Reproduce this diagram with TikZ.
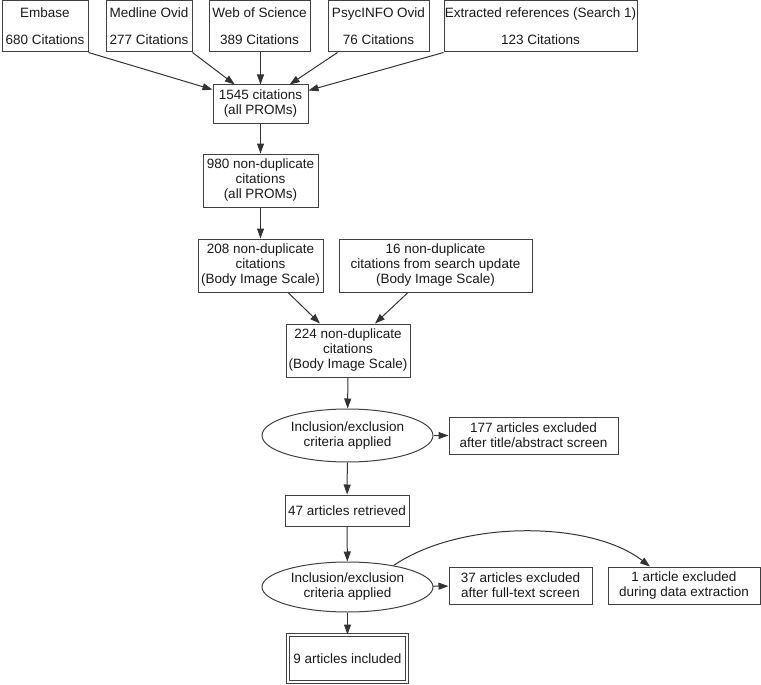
\documentclass[tikz,border=0pt]{standalone}
\usepackage{fontspec}
\setmainfont{Liberation Sans}
\usetikzlibrary{arrows.meta,shapes.geometric}
\begin{document}
\begin{tikzpicture}[x=1pt,y=-1pt,
  every node/.style={font=\fontsize{13.5}{15}\selectfont, text=black!90, align=center, inner sep=0pt},
  box/.style={draw=black!75, line width=1pt, rectangle},
  oval/.style={draw=black!75, line width=1pt, ellipse},
  conn/.style={draw=black!80, line width=1pt, -{Triangle[length=10pt,width=7pt]}}
]
\useasboundingbox (0,0) rectangle (761,685);
% top sources
\node[box, minimum width=86, minimum height=51] (emb) at (45,26.5) {Embase\\[12pt]680 Citations};
\node[box, minimum width=86, minimum height=51] (med) at (149,26.5) {Medline Ovid\\[12pt]277 Citations};
\node[box, minimum width=101, minimum height=51] (wos) at (259.5,26.5) {Web of Science\\[12pt]389 Citations};
\node[box, minimum width=101, minimum height=51] (psy) at (378.5,26.5) {PsycINFO Ovid\\[12pt]76 Citations};
\node[box, minimum width=193, minimum height=51] (ext) at (540.5,26.5) {Extracted references (Search 1)\\[12pt]123 Citations};
% flow
\node[box, minimum width=95, minimum height=38] (c1545) at (260.5,104) {1545 citations\\(all PROMs)};
\node[box, minimum width=115, minimum height=53] (c980) at (260.5,180.5) {980 non-duplicate\\citations\\(all PROMs)};
\node[box, minimum width=125, minimum height=53] (c208) at (260.5,265.5) {208 non-duplicate\\citations\\(Body Image Scale)};
\node[box, minimum width=193, minimum height=53] (c16) at (435.5,265.5) {16 non-duplicate\\citations from search update\\(Body Image Scale)};
\node[box, minimum width=124, minimum height=53] (c224) at (348,350.5) {224 non-duplicate\\citations\\(Body Image Scale)};
\node[oval, minimum width=171, minimum height=53] (e1) at (347.5,435.5) {Inclusion/exclusion\\criteria applied};
\node[box, minimum width=169, minimum height=37] (x177) at (533.5,435.5) {177 articles excluded\\after title/abstract screen};
\node[box, minimum width=124, minimum height=31] (r47) at (347,510.5) {47 articles retrieved};
\node[oval, minimum width=171, minimum height=50] (e2) at (347.5,587) {Inclusion/exclusion\\criteria applied};
\node[box, minimum width=143, minimum height=37] (x37) at (520.5,585.5) {37 articles excluded\\after full-text screen};
\node[box, minimum width=152, minimum height=37] (x1) at (684,585.5) {1 article excluded\\during data extraction};
\node[box, double, double distance=2.5pt, minimum width=119, minimum height=47] (inc) at (347.5,658.5) {9 articles included};
% connectors
\draw[conn] (emb.south east) -- (c1545);
\draw[conn] (med.south east) -- (c1545);
\draw[conn] (c1545.north |- wos.south) -- (c1545.north);
\draw[conn] ([xshift=10pt]psy.south west) -- (c1545);
\draw[conn] (ext.south west) -- (c1545);
\draw[conn] (c1545) -- (c980);
\draw[conn] (c980) -- (c208);
\draw[conn] ([xshift=27.5pt]c208.south) -- ([xshift=-28pt]c224.north);
\draw[conn] ([xshift=-27.5pt]c16.south) -- ([xshift=27pt]c224.north);
\draw[conn] (c224) -- (e1);
\draw[conn] (e1) -- (x177);
\draw[conn] (e1) -- (r47);
\draw[conn] (r47) -- (e2);
\draw[conn] (e2) -- (x37);
\draw[conn] (e2) -- (inc);
\draw[conn] (e2.25.6) .. controls (460,520) and (590,520) .. ([xshift=-34pt]x1.north);
\end{tikzpicture}
\end{document}
